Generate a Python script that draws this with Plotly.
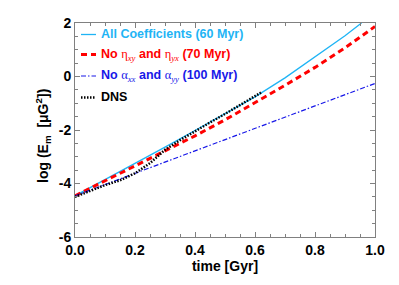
import plotly.graph_objects as go

# ---- data ----
t_model = [0.0, 0.1, 0.2, 0.3, 0.4, 0.5, 0.6, 0.7, 0.8, 0.9, 0.955]
all_coeff = [-4.46, -3.86, -3.26, -2.64, -2.02, -1.40, -0.76, -0.05, 0.72, 1.52, 2.0]

t_no_eta = [0.0, 0.1, 0.2, 0.3, 0.4, 0.5, 0.6, 0.7, 0.8, 0.9, 1.0]
no_eta = [-4.46, -3.90, -3.34, -2.78, -2.22, -1.62, -0.98, -0.33, 0.34, 1.07, 1.87]

t_no_alpha = [0.0, 0.1, 0.2, 0.3, 0.4, 0.5, 0.6, 0.7, 0.8, 0.9, 1.0]
no_alpha = [-4.46, -4.04, -3.62, -3.20, -2.78, -2.36, -1.94, -1.52, -1.10, -0.68, -0.26]

t_dns = [0.0, 0.03, 0.06, 0.1, 0.15, 0.2, 0.25, 0.3, 0.35, 0.4, 0.45, 0.5, 0.55, 0.6, 0.62]
dns = [-4.50, -4.36, -4.22, -4.06, -3.88, -3.62, -3.24, -2.74, -2.38, -2.04, -1.72, -1.40, -1.06, -0.72, -0.60]

x_tick_vals = [0.0, 0.2, 0.4, 0.6, 0.8, 1.0]
x_tick_text = ["0.0", "0.2", "0.4", "0.6", "0.8", "1.0"]
y_tick_vals = [-6, -4, -2, 0, 2]
y_tick_text = ["-6", "-4", "-2", "0", "2"]

SERIF = "font-family:'Liberation Serif',serif"
legend_labels = [
    "<b>All Coefficients (60 Myr)</b>",
    f"<b>No </b><span style=\"{SERIF}\">η<sub><i>xy</i></sub></span><b> and </b>"
    f"<span style=\"{SERIF}\">η<sub><i>yx</i></sub></span><b> (70 Myr)</b>",
    f"<b>No </b><span style=\"{SERIF}\">α<sub><i>xx</i></sub></span><b> and </b>"
    f"<span style=\"{SERIF}\">α<sub><i>yy</i></sub></span><b> (100 Myr)</b>",
    "<b>DNS</b>",
]

CYAN = "#1fb4f5"
RED = "#ff0000"
BLUE = "#1818e8"
BLACK = "#000000"
GRAY = "#808080"

styles = [
    dict(color=CYAN, width=1.3, dash="solid"),
    dict(color=RED, width=3, dash="6px,4px"),
    dict(color=BLUE, width=1.2, dash="5px,2px,1.5px,2px"),
    dict(color=BLACK, width=2.5, dash="1.5px,1.5px"),
]
series = [(t_model, all_coeff), (t_no_eta, no_eta), (t_no_alpha, no_alpha), (t_dns, dns)]

fig = go.Figure()
for (xs, ys), st, lab in zip(series, styles, legend_labels):
    fig.add_trace(go.Scatter(x=xs, y=ys, mode="lines", line=st, name=lab, showlegend=False))

# plot box geometry (page pixels; the page body adds an 8px offset)
PLOT_W, PLOT_H = 300, 214
PLOT_TOP = 23

# legend drawn as short sample lines + coloured labels (top-left, inside the axes)
legend_rows_px = [34.5, 54.5, 76, 97.5]
for row, st, lab in zip(legend_rows_px, styles, legend_labels):
    yp = (PLOT_TOP + PLOT_H - row) / PLOT_H
    fig.add_shape(type="line", xref="paper", yref="paper",
                  x0=6 / PLOT_W, x1=21 / PLOT_W, y0=yp, y1=yp,
                  line=dict(color=st["color"], width=st["width"], dash=st["dash"]))
    fig.add_annotation(xref="paper", yref="paper", x=24 / PLOT_W, y=yp,
                       xanchor="left", yanchor="middle", showarrow=False,
                       text=lab, font=dict(family="Arial", size=12.5, color=st["color"]))

# y-axis title as rotated text
fig.add_annotation(xref="paper", yref="paper", x=-32 / PLOT_W, y=(PLOT_TOP + PLOT_H - 136) / PLOT_H,
                   xanchor="center", yanchor="middle", showarrow=False, textangle=-90,
                   text="<b>log (E<sub>m</sub>  [μG<sup>2</sup>])</b>",
                   font=dict(family="Arial", size=14, color="black"))

axis_common = dict(
    showgrid=False, zeroline=False, showline=True, linecolor=GRAY, linewidth=1,
    mirror="ticks", ticks="inside", tickcolor=GRAY, ticklen=5, tickwidth=1,
    tickfont=dict(family="Arial", size=14, color="black"), automargin=False,
)

fig.update_xaxes(
    range=[0, 1.0], tickvals=x_tick_vals, ticktext=["<b>%s</b>" % s for s in x_tick_text],
    minor=dict(dtick=0.05, tick0=0, ticks="inside", ticklen=3, tickcolor=GRAY),
    title=dict(text="<b>time [Gyr]</b>", font=dict(family="Arial", size=14, color="black"), standoff=3),
    **axis_common)
fig.update_yaxes(
    range=[-6, 2], tickvals=y_tick_vals, ticktext=["<b>%s</b>" % s for s in y_tick_text],
    minor=dict(dtick=0.5, tick0=0, ticks="inside", ticklen=3, tickcolor=GRAY),
    **axis_common)

fig.update_layout(
    width=391, height=277,
    margin=dict(l=67, r=24, t=15, b=48),
    paper_bgcolor="white", plot_bgcolor="white",
    font=dict(family="Arial", size=12, color="black"),
    showlegend=False,
)

fig.write_html("out.html")
